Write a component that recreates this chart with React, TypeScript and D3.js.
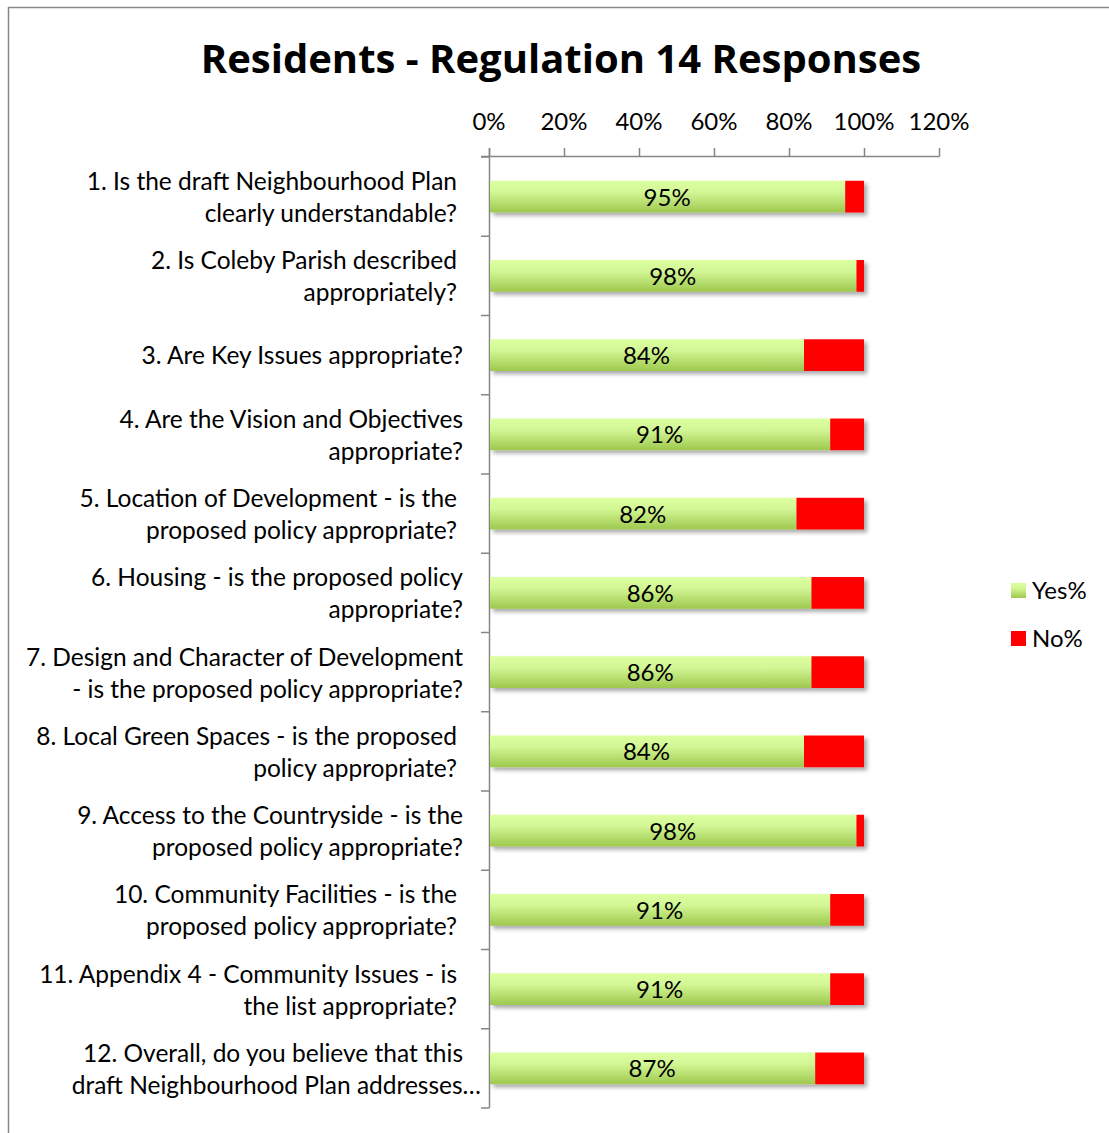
import React from "react";
import * as d3 from "d3";

const categories: string[][] = [
  ["1. Is the draft Neighbourhood Plan", "clearly understandable?"],
  ["2. Is Coleby Parish described", "appropriately?"],
  ["3. Are Key Issues appropriate?"],
  ["4. Are the Vision and Objectives", "appropriate?"],
  ["5. Location of Development - is the", "proposed policy appropriate?"],
  ["6. Housing - is the proposed policy", "appropriate?"],
  ["7. Design and Character of Development", "- is the proposed policy appropriate?"],
  ["8. Local Green Spaces - is the proposed", "policy appropriate?"],
  ["9. Access to the Countryside - is the", "proposed policy appropriate?"],
  ["10. Community Facilities - is the", "proposed policy appropriate?"],
  ["11. Appendix 4 - Community Issues - is", "the list appropriate?"],
  ["12. Overall, do you believe that this", "draft Neighbourhood Plan addresses…"],
];
// whether the wrapped label carried a trailing space (Excel shifts such blocks left)
const trailingSpace = [true, true, false, false, true, false, false, true, false, true, true, false];
const yesPct = [95, 98, 84, 91, 82, 86, 86, 84, 98, 91, 91, 87];
const noPct = [5, 2, 16, 9, 18, 14, 14, 16, 2, 9, 9, 13];
const tickValues = [0, 20, 40, 60, 80, 100, 120];
const seriesNames = ["Yes%", "No%"];

const W = 1109;
const H = 1133;
const FONT = "Lato, 'DejaVu Sans', sans-serif";
const TITLE_FONT = "'Open Sans', Lato, sans-serif";

export default function App() {
  const x = d3.scaleLinear().domain([0, 120]).range([489, 939]);
  const y = d3
    .scaleBand<number>()
    .domain(d3.range(categories.length))
    .range([157, 1108])
    .paddingInner(0.6)
    .paddingOuter(0.3);
  const step = y.step();
  const bw = y.bandwidth();
  const axisY = 156.5;
  const axisX = 489.5;
  const grey = "#868686";
  const boundaries = d3.range(categories.length + 1).map((i) => 157 + i * step);

  return (
    <svg
      width={W}
      height={H}
      style={{ position: "absolute", left: 0, top: 0, background: "#fff" }}
      fontFamily={FONT}
    >
      <defs>
        <linearGradient id="gYes" x1="0" y1="0" x2="0" y2="1">
          <stop offset="0%" stopColor="#dcffa0" />
          <stop offset="35%" stopColor="#d3f795" />
          <stop offset="100%" stopColor="#9ec84e" />
        </linearGradient>
        <filter id="shadow" x="-5%" y="-20%" width="115%" height="160%">
          <feGaussianBlur in="SourceAlpha" stdDeviation="2" />
          <feOffset dx="3" dy="3" result="b" />
          <feComponentTransfer>
            <feFuncA type="linear" slope="0.35" />
          </feComponentTransfer>
          <feMerge>
            <feMergeNode />
            <feMergeNode in="SourceGraphic" />
          </feMerge>
        </filter>
      </defs>

      {/* chart border */}
      <line x1={8.5} y1={7} x2={8.5} y2={H} stroke={grey} strokeWidth={1.5} />
      <line x1={8} y1={7.5} x2={W} y2={7.5} stroke={grey} strokeWidth={1.5} />

      {/* title */}
      <text x={561} y={73} textAnchor="middle" fontSize={40} fontWeight={700} fontFamily={TITLE_FONT} fill="#000">
        Residents - Regulation 14 Responses
      </text>

      {/* top axis */}
      <line x1={481} y1={axisY} x2={x(120) + 0.5} y2={axisY} stroke={grey} strokeWidth={1.5} />
      {tickValues.map((t) => (
        <g key={t}>
          <line x1={x(t) + 0.5} x2={x(t) + 0.5} y1={148} y2={axisY} stroke={grey} strokeWidth={1.5} />
          <text x={x(t)} y={130} textAnchor="middle" fontSize={24} fill="#000">
            {t}%
          </text>
        </g>
      ))}

      {/* category axis */}
      <line x1={axisX} x2={axisX} y1={148} y2={1108} stroke={grey} strokeWidth={1.5} />
      {boundaries.map((b, i) => (
        <line key={i} x1={481} x2={axisX} y1={b} y2={b} stroke={grey} strokeWidth={1.5} />
      ))}

      {/* bars */}
      {categories.map((_, i) => {
        const top = y(i)!;
        return (
          <g key={i} filter="url(#shadow)">
            <rect x={x(0) + 1} y={top} width={x(yesPct[i]) - x(0) - 1} height={bw} fill="url(#gYes)" />
            <rect x={x(yesPct[i])} y={top} width={x(yesPct[i] + noPct[i]) - x(yesPct[i])} height={bw} fill="#ff0000" />
          </g>
        );
      })}

      {/* value labels */}
      {categories.map((_, i) => {
        const cy = y(i)! + bw / 2;
        return (
          <text key={i} x={(x(0) + x(yesPct[i])) / 2} y={cy + 9} textAnchor="middle" fontSize={24} fill="#000">
            {yesPct[i]}%
          </text>
        );
      })}

      {/* category labels */}
      {categories.map((lines, i) => {
        const cy = y(i)! + bw / 2;
        const right = trailingSpace[i] ? 457 : 463;
        return (
          <g key={i}>
            {lines.map((ln, j) => {
              const by = lines.length === 1 ? cy + 9 : cy - 6.5 + j * 32;
              const rx = ln.endsWith("…") ? 481 : right;
              return (
                <text key={j} x={rx} y={by} textAnchor="end" fontSize={24.5} fill="#000">
                  {ln}
                </text>
              );
            })}
          </g>
        );
      })}

      {/* legend */}
      {seriesNames.map((s, i) => (
        <g key={s}>
          <rect x={1011} y={583 + i * 48} width={15} height={15} fill={i === 0 ? "url(#gYes)" : "#ff0000"} />
          <text x={1032} y={599 + i * 48} fontSize={24} fill="#000">
            {s}
          </text>
        </g>
      ))}
    </svg>
  );
}
